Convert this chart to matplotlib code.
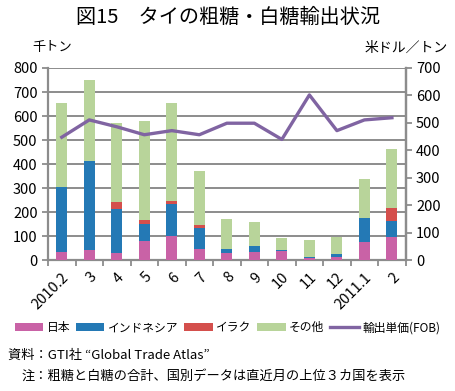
import numpy as np
import matplotlib
matplotlib.use('Agg')
import matplotlib.pyplot as plt
from matplotlib.patches import Patch
from matplotlib.lines import Line2D

plt.rcParams['font.family'] = ['Noto Sans CJK JP', 'DejaVu Sans']

# ---------------- données ----------------
mois = ['2010.2', '3', '4', '5', '6', '7', '8', '9', '10', '11', '12', '2011.1', '2']
japon = [36, 43, 30, 80, 101, 46, 30, 35, 40, 10, 15, 76, 96]
indonesie = [270, 370, 182, 72, 134, 90, 16, 24, 1, 4, 10, 100, 69]
irak = [0, 0, 30, 14, 11, 11, 0, 0, 0, 0, 0, 0, 51]
autres = [350, 337, 328, 415, 410, 226, 126, 102, 50, 72, 72, 162, 248]
prix_fob = [448, 511, 486, 457, 472, 457, 499, 499, 440, 602, 472, 511, 519]

series = [('日本', japon, '#C962A6'),
          ('インドネシア', indonesie, '#2479B5'),
          ('イラク', irak, '#D44F4C'),
          ('その他', autres, '#B8D49A')]
col_ligne = '#8064A2'
col_grille = '#8C8C8C'

# ---------------- figure ----------------
fig = plt.figure(figsize=(4.55, 3.91), dpi=100)
ax = fig.add_axes([0.1055, 0.3343, 0.7861, 0.4918])

x = np.arange(len(mois))
bas = np.zeros(len(mois))
for nom, vals, c in series:
    ax.bar(x, vals, width=0.4, bottom=bas, color=c, zorder=3)
    bas += np.array(vals)

ax.set_xlim(-0.5, len(mois) - 0.5)
ax.set_ylim(0, 800)
ax.set_yticks(np.arange(0, 801, 100))
ax.yaxis.grid(True, color=col_grille, linewidth=1.4, zorder=0)
ax.set_axisbelow(True)

ax.spines['top'].set_visible(False)
for s in ['left', 'right', 'bottom']:
    ax.spines[s].set_color(col_grille)
    ax.spines[s].set_linewidth(1.6)

ax.set_xticks(x)
ax.set_xticklabels(mois, rotation=45, ha='right', rotation_mode='anchor', fontsize=10.5)
ax.tick_params(axis='x', length=0, pad=7)
ax.set_xticks(np.arange(-0.5, len(mois), 1), minor=True)
ax.tick_params(axis='x', which='minor', length=4, color=col_grille, width=1.3)
ax.tick_params(axis='y', labelsize=10.5, length=4, color=col_grille, width=1.3)

ax2 = ax.twinx()
ax2.plot(x, prix_fob, color=col_ligne, linewidth=2.4, zorder=5)
ax2.set_ylim(0, 700)
ax2.set_yticks(np.arange(0, 701, 100))
ax2.tick_params(axis='y', labelsize=10.5, length=4, color=col_grille, width=1.3)
for s in ['top', 'left', 'bottom']:
    ax2.spines[s].set_visible(False)
ax2.spines['right'].set_color(col_grille)
ax2.spines['right'].set_linewidth(1.6)

# ---------------- textes ----------------
fig.text(0.5, 0.955, '図15　タイの粗糖・白糖輸出状況', ha='center', va='center',
         fontsize=14.5)
fig.text(0.072, 0.878, '千トン', ha='left', va='center', fontsize=9.5)
fig.text(0.985, 0.878, '米ドル／トン', ha='right', va='center', fontsize=10)

poignees = [Patch(facecolor=c, edgecolor='none') for _, _, c in series]
poignees.append(Line2D([0], [0], color=col_ligne, linewidth=2.4))
etiquettes = [n for n, _, _ in series] + ['輸出単価(FOB)']
fig.legend(poignees, etiquettes, loc='center', bbox_to_anchor=(0.5, 0.162),
           ncol=5, frameon=False, fontsize=8.5, handlelength=2.4, handleheight=0.6,
           handletextpad=0.3, columnspacing=0.5, borderpad=0.2)

fig.text(0.018, 0.092, '資料：GTI社 “Global Trade Atlas”', ha='left', va='center', fontsize=9.5)
fig.text(0.048, 0.038, '注：粗糖と白糖の合計、国別データは直近月の上位３カ国を表示',
         ha='left', va='center', fontsize=9.5)

fig.savefig('out.png', dpi=100)
